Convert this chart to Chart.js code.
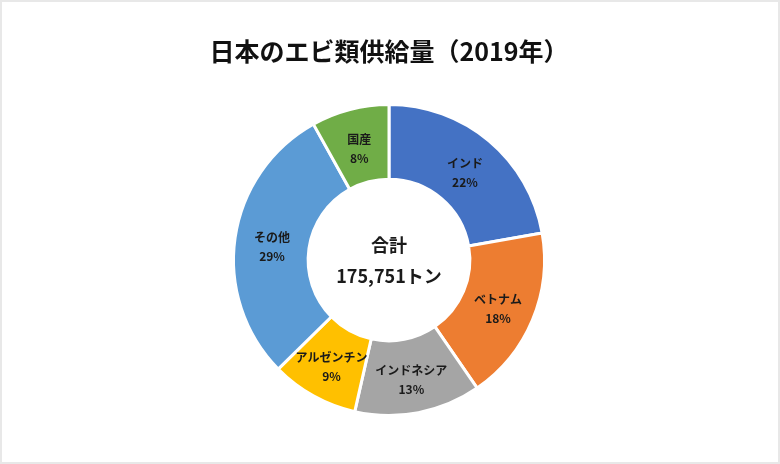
<!DOCTYPE html>
<html>
<head>
    <meta charset="utf-8">
    <title>日本のエビ類供給量</title>
    <style>
        body {
            margin: 0;
            background: #fff;
        }

        .chart-box {
            position: relative;
            width: 780px;
            height: 464px;
        }

        .chart-box canvas {
            outline: 2px solid #e8e8e8;
            outline-offset: -2px;
        }
    </style>
    <script src="https://cdn.jsdelivr.net/npm/chart.js"></script>
</head>
<body>

    <div class="chart-box">
        <canvas id="shrimpChart"></canvas>
    </div>

    <script>
        const regions = ['インド', 'ベトナム', 'インドネシア', 'アルゼンチン', 'その他', '国産'];
        const shares = [22, 18, 13, 9, 29, 8];
        const sliceColors = ['#4472C4', '#ED7D31', '#A5A5A5', '#FFC000', '#5B9BD5', '#70AD47'];
        const centerLines = ['合計', '175,751トン'];

        const jpFont = '"Noto Sans CJK JP", "Noto Sans", sans-serif';

        // slice labels + total in the hole
        const labelPlugin = {
            id: 'sliceLabels',
            afterDatasetsDraw(chart) {
                const ctx = chart.ctx;
                const meta = chart.getDatasetMeta(0);
                ctx.save();
                ctx.fillStyle = '#1a1a1a';
                ctx.textAlign = 'center';
                ctx.textBaseline = 'middle';

                ctx.font = 'bold 12px ' + jpFont;
                meta.data.forEach((arc, i) => {
                    const p = arc.tooltipPosition();
                    ctx.fillText(regions[i], p.x, p.y - 6);
                    ctx.fillText(shares[i] + '%', p.x, p.y + 13);
                });

                const c = meta.data[0];
                ctx.font = 'bold 18px ' + jpFont;
                ctx.fillText(centerLines[0], c.x, c.y - 15);
                ctx.fillText(centerLines[1], c.x, c.y + 16);
                ctx.restore();
            }
        };

        new Chart(document.getElementById('shrimpChart'), {
            type: 'doughnut',
            data: {
                labels: regions,
                datasets: [{
                    data: shares,
                    backgroundColor: sliceColors,
                    borderColor: '#ffffff',
                    borderWidth: 3
                }]
            },
            options: {
                responsive: true,
                maintainAspectRatio: false,
                animation: false,
                cutout: '52%',
                layout: {
                    padding: { top: 0, bottom: 47, left: 0, right: 2 }
                },
                plugins: {
                    legend: { display: false },
                    tooltip: { enabled: false },
                    title: {
                        display: true,
                        text: '日本のエビ類供給量（2019年）',
                        color: '#111',
                        font: { family: jpFont, size: 25, weight: 'bold' },
                        padding: { top: 36, bottom: 37 }
                    }
                }
            },
            plugins: [labelPlugin]
        });
    </script>

</body>
</html>
